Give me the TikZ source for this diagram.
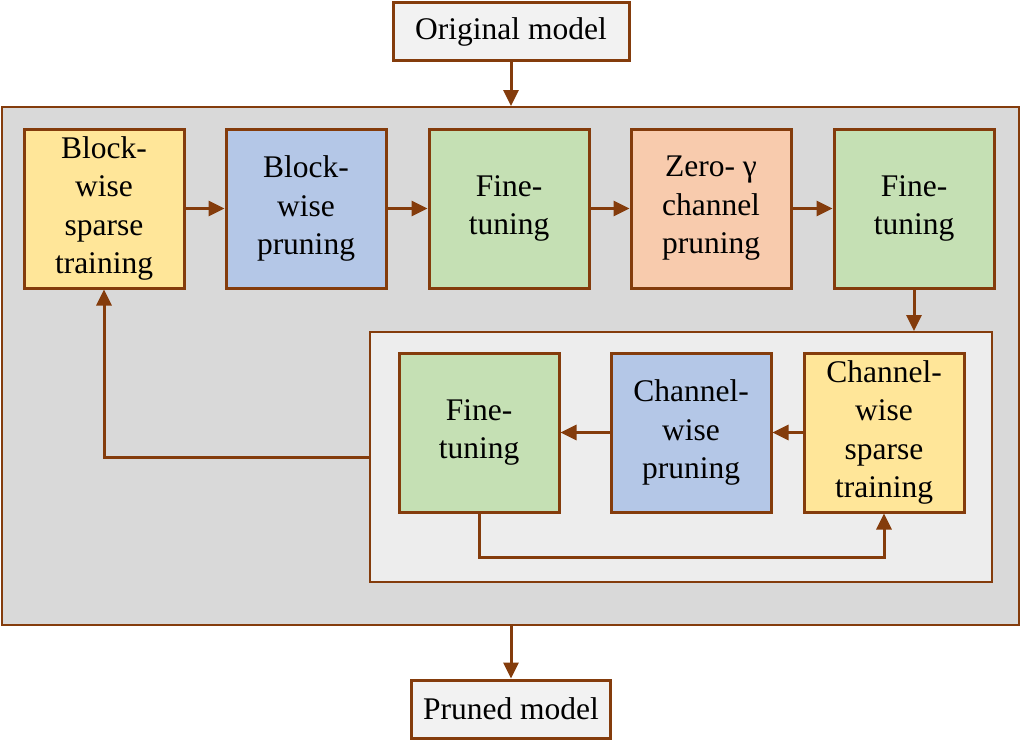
\documentclass[tikz,border=0pt]{standalone}
\usepackage{fontspec}
\setmainfont{Liberation Serif}
\usetikzlibrary{arrows.meta}
\definecolor{brd}{HTML}{843C0C}
\definecolor{outerfill}{HTML}{D9D9D9}
\definecolor{innerfill}{HTML}{EDEDED}
\definecolor{modelfill}{HTML}{F2F2F2}
\definecolor{yel}{HTML}{FFE699}
\definecolor{blu}{HTML}{B4C7E7}
\definecolor{grn}{HTML}{C5E0B4}
\definecolor{org}{HTML}{F8CBAD}
\begin{document}
\begin{tikzpicture}[x=1pt,y=-1pt,
  box/.style={draw=brd,line width=3pt,minimum width=160pt,minimum height=159pt,align=center,font=\fontsize{31.5}{38.5}\selectfont,inner sep=0pt},
  modelbox/.style={draw=brd,line width=3pt,fill=modelfill,minimum height=58pt,align=center,font=\fontsize{31.5}{38.5}\selectfont,inner sep=0pt},
  arr/.style={draw=brd,line width=3pt,-{Triangle[length=16pt,width=15pt]}},
  frame/.style={draw=brd,line width=2pt,inner sep=0pt}]
\useasboundingbox (0,0) rectangle (1022,742);
\fill[white] (0,0) rectangle (1022,742);
\node[frame,fill=outerfill,minimum width=1017pt,minimum height=518pt] (outer) at (510.5,366) {};
\node[frame,fill=innerfill,minimum width=622pt,minimum height=250pt] (inner) at (681,457) {};
\node[modelbox,minimum width=236pt] (orig) at (511,31.5) {Original model};
\node[modelbox,minimum width=199pt] (pruned) at (511,709) {Pruned model};
\node[box,fill=yel] (bst) at (104,208.5) {Block-\\wise\\sparse\\training};
\node[box,fill=blu] (bwp) at (306,208.5) {Block-\\wise\\pruning};
\node[box,fill=grn] (ft1) at (509,208.5) {Fine-\\tuning};
\node[box,fill=org] (zgp) at (711,208.5) {Zero- γ\\channel\\pruning};
\node[box,fill=grn] (ft2) at (914,208.5) {Fine-\\tuning};
\node[box,fill=grn] (ft3) at (479,432.5) {Fine-\\tuning};
\node[box,fill=blu] (cwp) at (691,432.5) {Channel-\\wise\\pruning};
\node[box,fill=yel] (cst) at (884,432.5) {Channel-\\wise\\sparse\\training};
\draw[arr] (orig.south) -- (orig.south |- outer.north);
\draw[arr] (outer.south -| pruned.north) -- (pruned.north);
\draw[arr] (bst) -- (bwp);
\draw[arr] (bwp) -- (ft1);
\draw[arr] (ft1) -- (zgp);
\draw[arr] (zgp) -- (ft2);
\draw[arr] (ft2.south) -- (ft2.south |- inner.north);
\draw[arr] (cst) -- (cwp);
\draw[arr] (cwp) -- (ft3);
\draw[arr] (ft3.south) -- ++(0,44) -| (cst.south);
\draw[arr] (inner.west) -| (bst.south);
\end{tikzpicture}
\end{document}
